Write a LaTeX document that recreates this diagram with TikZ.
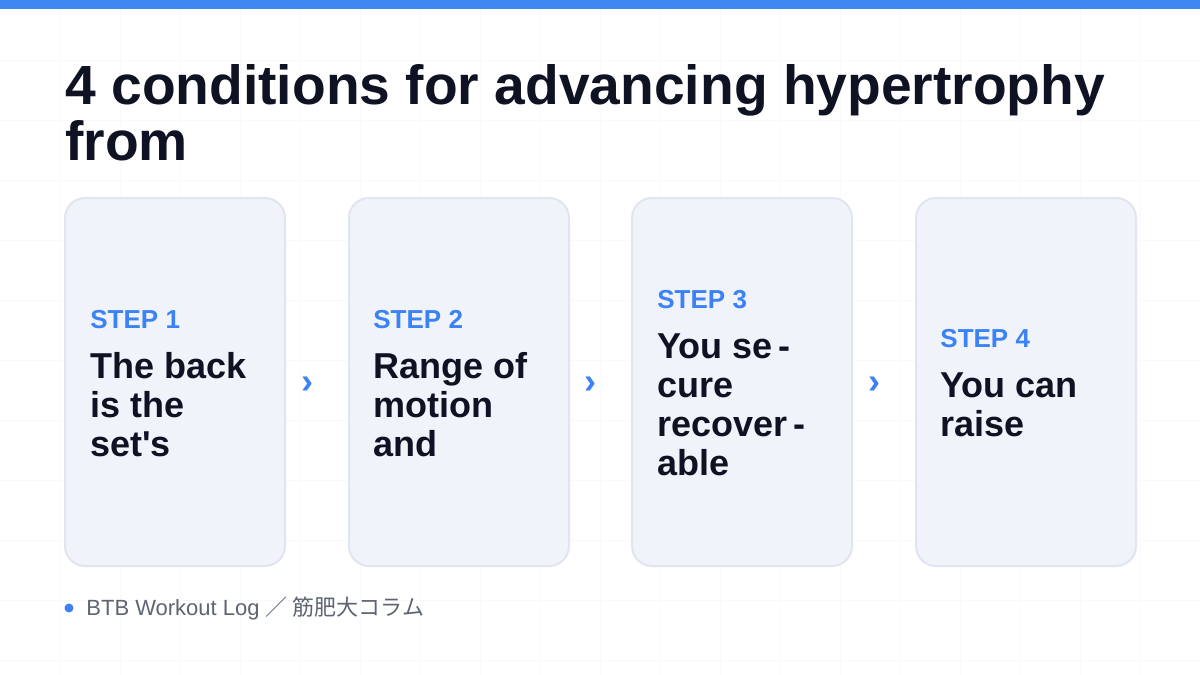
\documentclass[tikz,border=0pt]{standalone}
\usepackage{fontspec}
\setmainfont{Liberation Sans}
\newfontfamily\cjk{Noto Sans CJK JP}
\definecolor{barblue}{HTML}{3E86F2}
\definecolor{stepblue}{HTML}{3B82F6}
\definecolor{ink}{HTML}{0F1222}
\definecolor{cardfill}{HTML}{F1F3FB}
\definecolor{cardline}{HTML}{E1E5EF}
\definecolor{gridline}{HTML}{F8F9FA}
\definecolor{footgray}{HTML}{5F6472}
\tikzset{
	card/.style={draw=cardline, line width=1pt, fill=cardfill, rounded corners=10pt},
	steplabel/.style={anchor=base west, inner sep=0, text=stepblue, font=\fontsize{13}{15}\selectfont\bfseries},
	bodyline/.style={anchor=base west, inner sep=0, text=ink, font=\fontsize{18}{20}\selectfont\bfseries},
	chevron/.style={anchor=center, inner sep=0, text=stepblue, font=\fontsize{18}{20}\selectfont\bfseries},
}
\begin{document}
\begin{tikzpicture}[x=0.5pt, y=-0.5pt]
	\useasboundingbox (0, 0) rectangle (1200, 675);
	\fill[white] (0, 0) rectangle (1200, 675);
	% faint grid
	\foreach \x in {60,120,...,1140}
		\draw[gridline, line width=0.5pt] (\x, 0) -- (\x, 675);
	\foreach \y in {60,120,...,660}
		\draw[gridline, line width=0.5pt] (0, \y) -- (1200, \y);
	\fill[barblue] (0, 0) rectangle (1200, 9);

	% title
	\node[anchor=base west, inner sep=0, text=ink, font=\fontsize{27.6}{29}\selectfont\bfseries] (title1) at (65, 104) {4 conditions for advancing hypertrophy};
	\node[anchor=base west, inner sep=0, text=ink, font=\fontsize{27.6}{29}\selectfont\bfseries] (title2) at (65, 160) {from};

	% cards
	\foreach \i/\x in {1/65, 2/349, 3/632, 4/916}
		\draw[card] (\x, 198) rectangle ++(220, 368) coordinate (card\i);

	\node[steplabel] (step1) at (90, 328) {STEP 1};
	\foreach \t [count=\k] in {The back, is the, set\textquotesingle s}
		\node[bodyline] (body1\k) at (90, 339+39*\k) {\t};

	\node[steplabel] (step2) at (373, 328) {STEP 2};
	\foreach \t [count=\k] in {Range of, motion, and}
		\node[bodyline] (body2\k) at (373, 339+39*\k) {\t};

	\node[steplabel] (step3) at (657, 308) {STEP 3};
	\foreach \t [count=\k] in {You se\,-, cure, recover\,-, able}
		\node[bodyline] (body3\k) at (657, 319+39*\k) {\t};

	\node[steplabel] (step4) at (940, 347) {STEP 4};
	\foreach \t [count=\k] in {You can, raise}
		\node[bodyline] (body4\k) at (940, 358+39*\k) {\t};

	% chevrons between cards
	\foreach \x [count=\k] in {307, 590, 874}
		\node[chevron] (chev\k) at (\x, 385) {›};

	% footer
	\fill[stepblue] (69, 608) circle [radius=4.5];
	\node[anchor=base west, inner sep=0, text=footgray, font=\fontsize{11}{12}\selectfont] (footer) at (86, 615) {BTB Workout Log {\cjk ／ 筋肥大コラム}};
\end{tikzpicture}
\end{document}
